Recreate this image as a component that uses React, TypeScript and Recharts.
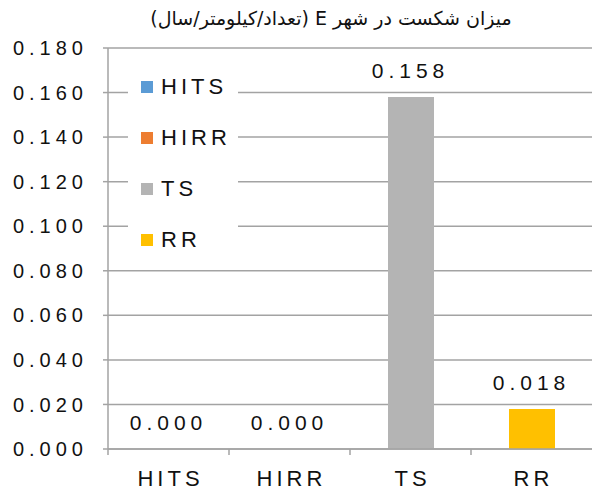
import { ComposedChart, Bar, Line, Cell, XAxis, YAxis, CartesianGrid, Legend, LabelList } from 'recharts';

const categories = ['HITS', 'HIRR', 'TS', 'RR'];
const values = [0.0, 0.0, 0.158, 0.018];
const colors = ['#5B9BD5', '#ED7D31', '#B4B4B4', '#FFC000'];
const yTicks = [0, 0.02, 0.04, 0.06, 0.08, 0.1, 0.12, 0.14, 0.16, 0.18];
const title = 'میزان شکست در شهر E (تعداد/کیلومتر/سال)';

const W = 592;
const H = 490;
const Y_AXIS_W = 108;
const GRID = '#a3a3a3';
const FONT = '"Liberation Sans", Arial, sans-serif';

const data = categories.map((name, i) => ({ name, value: values[i] }));

// category labels + tick marks on the band edges (Excel style)
function CategoryTick(props: any) {
  const { x, y, payload } = props;
  const band = (W - Y_AXIS_W) / categories.length;
  const left = x - band / 2;
  return (
    <g>
      <line x1={left} x2={left} y1={y - 8} y2={y - 2} stroke={GRID} strokeWidth={1.5} />
      <text
        x={x + 2}
        y={y + 29}
        textAnchor="middle"
        fontSize={22}
        letterSpacing={4}
        fill="#111"
        fontFamily={FONT}
      >
        {payload.value}
      </text>
    </g>
  );
}

function LegendBox() {
  return (
    <div style={{ background: '#fff', paddingLeft: 13 }}>
      {categories.map((c, i) => (
        <div
          key={c}
          style={{
            display: 'flex',
            alignItems: 'center',
            height: 51,
            fontFamily: FONT,
            fontSize: 22,
            letterSpacing: 4,
            color: '#111',
          }}
        >
          <span style={{ width: 12, height: 12, background: colors[i], marginRight: 8 }} />
          {c}
        </div>
      ))}
    </div>
  );
}

export default function App() {
  return (
    <div style={{ position: 'absolute', left: 0, top: 0, width: W, height: H, overflow: 'hidden', background: '#fff' }}>
      <div
        style={{
          position: 'absolute',
          top: 7,
          left: 331 - 200,
          width: 400,
          textAlign: 'center',
          direction: 'rtl',
          fontFamily: '"DejaVu Sans", sans-serif',
          fontSize: 19,
          color: '#111',
        }}
      >
        {title}
      </div>
      <ComposedChart width={W} height={H} data={data} margin={{ top: 48, right: 0, bottom: 0, left: 0 }}>
        <CartesianGrid horizontal vertical={false} stroke={GRID} strokeWidth={1.5} />
        <XAxis
          dataKey="name"
          height={41}
          axisLine={{ stroke: GRID, strokeWidth: 1.5 }}
          tickLine={false}
          tick={<CategoryTick />}
          interval={0}
        />
        <YAxis
          domain={[0, 0.18]}
          ticks={yTicks}
          width={Y_AXIS_W}
          tickFormatter={(v: number) => v.toFixed(3)}
          axisLine={{ stroke: GRID, strokeWidth: 1.5 }}
          tickLine={{ stroke: GRID, strokeWidth: 1.5 }}
          tickSize={5}
          tickMargin={15}
          tick={{ fontSize: 20, fill: '#111', fontFamily: FONT, letterSpacing: 5 }}
        />
        <Legend
          layout="vertical"
          align="center"
          verticalAlign="middle"
          wrapperStyle={{ left: 128, top: 61, width: 110 }}
          content={() => <LegendBox />}
        />
        <Bar dataKey="value" barSize={46} isAnimationActive={false}>
          {data.map((d, i) => (
            <Cell key={d.name} fill={colors[i]} />
          ))}
        </Bar>
        {/* invisible series that carries the value labels, so the 0.000 bars get one too */}
        <Line dataKey="value" stroke="none" dot={false} activeDot={false} isAnimationActive={false}>
          <LabelList
            dataKey="value"
            position="top"
            offset={19}
            formatter={(v: any) => Number(v).toFixed(3)}
            style={{ fontSize: 21, fill: '#111', fontFamily: FONT, letterSpacing: 5 }}
          />
        </Line>
      </ComposedChart>
    </div>
  );
}
